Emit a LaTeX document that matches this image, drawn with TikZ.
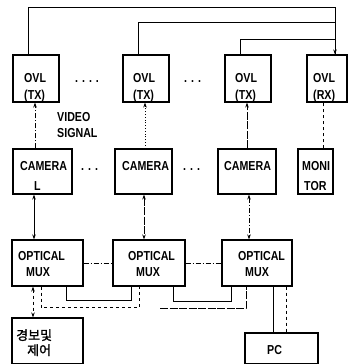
\documentclass[tikz,border=0pt]{standalone}
\usepackage{fontspec}
\setmainfont{Liberation Sans}[FakeStretch=0.82]
\newfontfamily\kr{Noto Sans CJK KR}[FakeBold=1.5]
\usetikzlibrary{arrows.meta}
\begin{document}
\begin{tikzpicture}[x=1pt,y=-1pt,
  box/.style={draw,line width=1.1pt,inner sep=0pt},
  txt/.style={inner sep=0pt,anchor=base west,font=\fontsize{13}{14}\selectfont\bfseries},
  ktxt/.style={inner sep=0pt,anchor=base west,font=\fontsize{13}{14}\selectfont\kr},
  wire/.style={line width=0.8pt},
  tip/.style={-{Stealth[length=5pt,width=3.5pt]}},
  dtip/.style={{Stealth[length=5pt,width=3.5pt]}-{Stealth[length=5pt,width=3.5pt]}},
  dashdot/.style={dash pattern=on 5pt off 2pt on 1pt off 2pt},
  longdash/.style={dash pattern=on 8pt off 1.5pt}]
\useasboundingbox (0,0) rectangle (348,364);
% OVL row
\node[box,minimum width=46,minimum height=47] (ovl1) at (36,78.5) {};
\node[box,minimum width=46,minimum height=47] (ovl2) at (146,78.5) {};
\node[box,minimum width=46,minimum height=47] (ovl3) at (248,78.5) {};
\node[box,minimum width=40,minimum height=47] (ovl4) at (327,78.5) {};
\node[txt] (o1a) at (24,82) {OVL};
\node[txt] (o1b) at (24,99) {(TX)};
\node[txt] (o2a) at (133,82) {OVL};
\node[txt] (o2b) at (133,99) {(TX)};
\node[txt] (o3a) at (235,82) {OVL};
\node[txt] (o3b) at (235,99) {(TX)};
\node[txt] (o4a) at (313,82) {OVL};
\node[txt] (o4b) at (313,99) {(RX)};
\node[txt] (d1) at (75,82) {. . . .};
\node[txt] (d2) at (184,82) {. . .};
% camera row
\node[box,minimum width=59,minimum height=45] (cam1) at (42.5,171.5) {};
\node[box,minimum width=57,minimum height=45] (cam2) at (143.5,171.5) {};
\node[box,minimum width=58,minimum height=45] (cam3) at (247,171.5) {};
\node[box,minimum width=35,minimum height=45] (mon) at (315.5,171.5) {};
\node[txt] (c1a) at (20,170) {CAMERA};
\node[txt] (c1b) at (34,190) {L};
\node[txt] (c2a) at (122,170) {CAMERA};
\node[txt] (c3a) at (224,170) {CAMERA};
\node[txt] (m1a) at (302,170) {MONI};
\node[txt] (m1b) at (304,190) {TOR};
\node[txt] (d3) at (81,170) {. . .};
\node[txt] (d4) at (183,170) {. . .};
\node[txt] (v1) at (57,121) {VIDEO};
\node[txt] (v2) at (57,137) {SIGNAL};
% mux row
\node[box,minimum width=71,minimum height=46] (mux1) at (47.5,263) {};
\node[box,minimum width=72,minimum height=46] (mux2) at (149,263) {};
\node[box,minimum width=70,minimum height=46] (mux3) at (257,263) {};
\node[txt] (x1a) at (18,260) {OPTICAL};
\node[txt] (x1b) at (26,276) {MUX};
\node[txt] (x2a) at (128,260) {OPTICAL};
\node[txt] (x2b) at (136,276) {MUX};
\node[txt] (x3a) at (238,260) {OPTICAL};
\node[txt] (x3b) at (245,276) {MUX};
% bottom
\node[box,minimum width=71,minimum height=46] (alarm) at (47.5,341) {};
\node[box,minimum width=73,minimum height=31] (pc) at (281.5,348.5) {};
\node[ktxt] (k1) at (16,340) {경보및};
\node[ktxt] (k2) at (27,355) {제어};
\node[txt] (p1) at (267,354) {PC};
% top wires
\draw[wire,tip] ([xshift=-8pt]ovl1.north) -- ++(0,-47) -| ([xshift=8pt]ovl4.north);
\draw[wire] ([xshift=-8pt]ovl2.north) -- ++(0,-32) -| ([xshift=8pt]ovl4.north);
\draw[wire] ([xshift=-8pt]ovl3.north) -- ++(0,-15) -| ([xshift=8pt]ovl4.north);
% camera - ovl
\draw[wire,tip,dashdot] ([xshift=-7.5pt]cam1.north) -- ([xshift=-1pt]ovl1.south);
\draw[wire,tip,dotted] ([xshift=1.5pt]cam2.north) -- ([xshift=-1pt]ovl2.south);
\draw[wire,tip,longdash] (cam3.north) -- ([xshift=-1pt]ovl3.south);
\draw[wire,dashed] ([xshift=7.5pt]mon.north) -- ([xshift=-4pt]ovl4.south);
% camera - mux
\draw[wire,dtip] ([xshift=-8.5pt]cam1.south) -- ([xshift=-13.5pt]mux1.north);
\draw[wire,dtip,longdash] ([xshift=0.5pt]cam2.south) -- ([xshift=-5pt]mux2.north);
\draw[wire,dtip,dashdot] ([xshift=2pt]cam3.south) -- ([xshift=-8pt]mux3.north);
\draw[wire,dtip,dashed] ([xshift=-14.5pt]mux1.south) -- ([xshift=-14.5pt]alarm.north);
% mux - mux
\draw[wire,dashdot] (mux1.east) -- (mux2.west);
\draw[wire,dashdot] (mux2.east) -- (mux3.west);
% bottom loops
\draw[wire] ([xshift=18.5pt]mux1.south) -- ++(0,14) -| ([xshift=-18pt]mux2.south);
\draw[wire,dashed] ([xshift=-6.5pt]mux1.south) -- ++(0,21) -| ([xshift=-10pt]mux2.south);
\draw[wire] ([xshift=24pt]mux2.south) -- ++(0,15) -| ([xshift=-26pt]mux3.south);
\coordinate (free) at (160,308);
\draw[wire,longdash] (free) -| ([xshift=-11pt]mux3.south);
\draw[wire] ([xshift=16pt]mux3.south) -- ([xshift=-8.5pt]pc.north);
\draw[wire,dashed] ([xshift=29pt]mux3.south) -- ([xshift=4.5pt]pc.north);
\end{tikzpicture}
\end{document}
